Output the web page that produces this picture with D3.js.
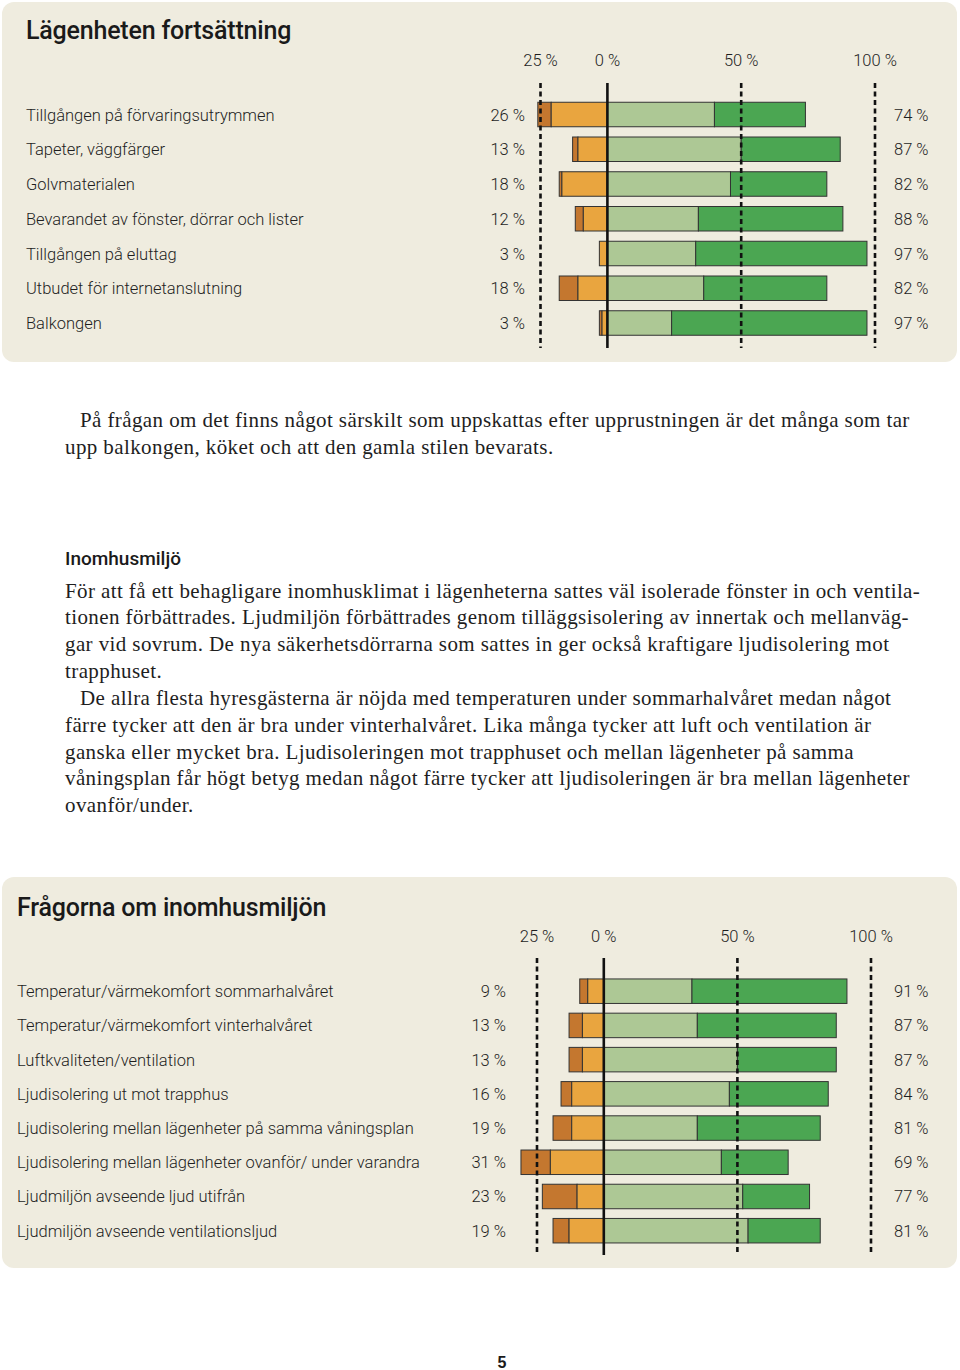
<!DOCTYPE html>
<html><head><meta charset="utf-8">
<script src="https://cdn.jsdelivr.net/npm/d3@7"></script>
<style>
html,body{margin:0;padding:0;background:#fff;}
svg{display:block;}
</style></head>
<body>
<script>
// ---------- DATA ----------
const tickValues = [-25, 0, 50, 100];
const tickLabels = ["25 %", "0 %", "50 %", "100 %"];

const topTitle = "Lägenheten fortsättning";
const topLabels = ["Tillgången på förvaringsutrymmen","Tapeter, väggfärger","Golvmaterialen","Bevarandet av fönster, dörrar och lister","Tillgången på eluttag","Utbudet för internetanslutning","Balkongen"];
const topNegLight = [21, 11, 17, 9, 3, 11, 2];
const topNegDark  = [5, 2, 1, 3, 0, 7, 1];
const topPosLight = [40, 50, 46, 34, 33, 36, 24];
const topPosDark  = [34, 37, 36, 54, 64, 46, 73];
const topNegTotal = [26, 13, 18, 12, 3, 18, 3];
const topPosTotal = [74, 87, 82, 88, 97, 82, 97];

const botTitle = "Frågorna om inomhusmiljön";
const botLabels = ["Temperatur/värmekomfort sommarhalvåret","Temperatur/värmekomfort vinterhalvåret","Luftkvaliteten/ventilation","Ljudisolering ut mot trapphus","Ljudisolering mellan lägenheter på samma våningsplan","Ljudisolering mellan lägenheter ovanför/ under varandra","Ljudmiljön avseende ljud utifrån","Ljudmiljön avseende ventilationsljud"];
const botNegLight = [6, 8, 8, 12, 12, 20, 10, 13];
const botNegDark  = [3, 5, 5, 4, 7, 11, 13, 6];
const botPosLight = [33, 35, 50, 47, 35, 44, 52, 54];
const botPosDark  = [58, 52, 37, 37, 46, 25, 25, 27];
const botNegTotal = [9, 13, 13, 16, 19, 31, 23, 19];
const botPosTotal = [91, 87, 87, 84, 81, 69, 77, 81];

const para1 = [
 "På frågan om det finns något särskilt som uppskattas efter upprustningen är det många som tar",
 "upp balkongen, köket och att den gamla stilen bevarats."];
const heading2 = "Inomhusmiljö";
const para2 = [
 "För att få ett behagligare inomhusklimat i lägenheterna sattes väl isolerade fönster in och ventila-",
 "tionen förbättrades. Ljudmiljön förbättrades genom tilläggsisolering av innertak och mellanväg-",
 "gar vid sovrum. De nya säkerhetsdörrarna som sattes in ger också kraftigare ljudisolering mot",
 "trapphuset."];
const para3 = [
 "De allra flesta hyresgästerna är nöjda med temperaturen under sommarhalvåret medan något",
 "färre tycker att den är bra under vinterhalvåret. Lika många tycker att luft och ventilation är",
 "ganska eller mycket bra. Ljudisoleringen mot trapphuset och mellan lägenheter på samma",
 "våningsplan får högt betyg medan något färre tycker att ljudisoleringen är bra mellan lägenheter",
 "ovanför/under."];
const pageNumber = "5";

// ---------- STYLE ----------
const C = {
  panel: "#efecdf", darkOrange: "#c4772f", lightOrange: "#e9a53f",
  lightGreen: "#adc895", darkGreen: "#4ba652", stroke: "#333", text: "#1e1e1e"
};
const sans = "Roboto, 'Liberation Sans', sans-serif";
const serif = "'Liberation Serif', 'DejaVu Serif', serif";

const svg = d3.select("body").append("svg").attr("width", 960).attr("height", 1370);

function chart(cfg) {
  const g = svg.append("g");
  g.append("rect").attr("x", 2).attr("y", cfg.panelTop).attr("width", 955)
    .attr("height", cfg.panelBottom - cfg.panelTop).attr("rx", 12).attr("fill", C.panel);
  g.append("text").attr("x", cfg.labelX).attr("y", cfg.titleY).text(cfg.title)
    .attr("font-family", sans).attr("font-weight", 500).attr("font-size", 25)
    .attr("letter-spacing", -0.2).attr("fill", "#1a1a1a");

  const x = d3.scaleLinear().domain([-25, 100]).range(cfg.xRange);
  const y = d3.scalePoint().domain(d3.range(cfg.labels.length)).range(cfg.yRange);
  const bh = 24.5;

  g.selectAll(".tick").data(tickValues).join("text")
    .attr("x", d => x(d)).attr("y", cfg.tickY).attr("text-anchor", "middle")
    .text((d, i) => tickLabels[i])
    .attr("font-family", sans).attr("font-size", 16.5).attr("font-weight", 300).attr("fill", C.text);

  const rows = g.selectAll(".row").data(cfg.labels).join("g");
  rows.each(function (lab, i) {
    const r = d3.select(this);
    const cy = y(i);
    const segs = [
      {x0: -(cfg.negLight[i] + cfg.negDark[i]), x1: -cfg.negLight[i], c: C.darkOrange},
      {x0: -cfg.negLight[i], x1: 0, c: C.lightOrange},
      {x0: 0, x1: cfg.posLight[i], c: C.lightGreen},
      {x0: cfg.posLight[i], x1: cfg.posLight[i] + cfg.posDark[i], c: C.darkGreen}
    ].filter(s => s.x1 > s.x0);
    r.selectAll("rect").data(segs).join("rect")
      .attr("x", s => x(s.x0)).attr("width", s => x(s.x1) - x(s.x0))
      .attr("y", cy - bh / 2).attr("height", bh)
      .attr("fill", s => s.c).attr("stroke", C.stroke).attr("stroke-width", 1);
    const t = (xx, anchor, txt) => r.append("text").attr("x", xx).attr("y", cy + 6)
      .attr("text-anchor", anchor).text(txt)
      .attr("font-family", sans).attr("font-size", 16.5).attr("font-weight", 300).attr("fill", C.text);
    t(cfg.labelX, "start", lab);
    t(cfg.negX, "end", cfg.negTotal[i] + " %");
    t(cfg.posX, "start", cfg.posTotal[i] + " %");
  });

  g.selectAll(".ref").data(tickValues).join("line")
    .attr("x1", d => x(d)).attr("x2", d => x(d))
    .attr("y1", cfg.lineTop).attr("y2", cfg.lineBottom)
    .attr("stroke", "#111").attr("stroke-width", 2.6)
    .attr("stroke-dasharray", d => d === 0 ? null : "5,3.5");
}

chart({
  title: topTitle, labels: topLabels, negLight: topNegLight, negDark: topNegDark,
  posLight: topPosLight, posDark: topPosDark, negTotal: topNegTotal, posTotal: topPosTotal,
  panelTop: 2, panelBottom: 362, titleY: 39, tickY: 66, labelX: 26, negX: 525, posX: 894,
  xRange: [540.5, 875], yRange: [114.5, 323], lineTop: 83, lineBottom: 348
});
chart({
  title: botTitle, labels: botLabels, negLight: botNegLight, negDark: botNegDark,
  posLight: botPosLight, posDark: botPosDark, negTotal: botNegTotal, posTotal: botPosTotal,
  panelTop: 877, panelBottom: 1268, titleY: 916, tickY: 942, labelX: 17, negX: 506, posX: 894,
  xRange: [537, 871], yRange: [991.2, 1230.7], lineTop: 958, lineBottom: 1255
});

// ---------- BODY TEXT ----------
function para(lines, y0, indentFirst) {
  svg.append("g").selectAll("text").data(lines).join("text")
    .attr("x", (d, i) => (i === 0 && indentFirst) ? 80 : 65)
    .attr("y", (d, i) => y0 + i * 26.8)
    .text(d => d)
    .attr("font-family", serif).attr("font-size", 21).attr("letter-spacing", 0.4)
    .attr("fill", "#1e1e1e");
}
para(para1, 427, true);
svg.append("text").attr("x", 65).attr("y", 564.5).text(heading2)
  .attr("font-family", sans).attr("font-weight", 500).attr("font-size", 19).attr("fill", "#1a1a1a");
para(para2, 597.5, false);
para(para3, 705, true);

svg.append("text").attr("x", 502).attr("y", 1368).attr("text-anchor", "middle").text(pageNumber)
  .attr("font-family", "'Liberation Sans', sans-serif").attr("font-weight", 700).attr("font-size", 16).attr("fill", "#1a1a1a");
</script>
</body></html>
